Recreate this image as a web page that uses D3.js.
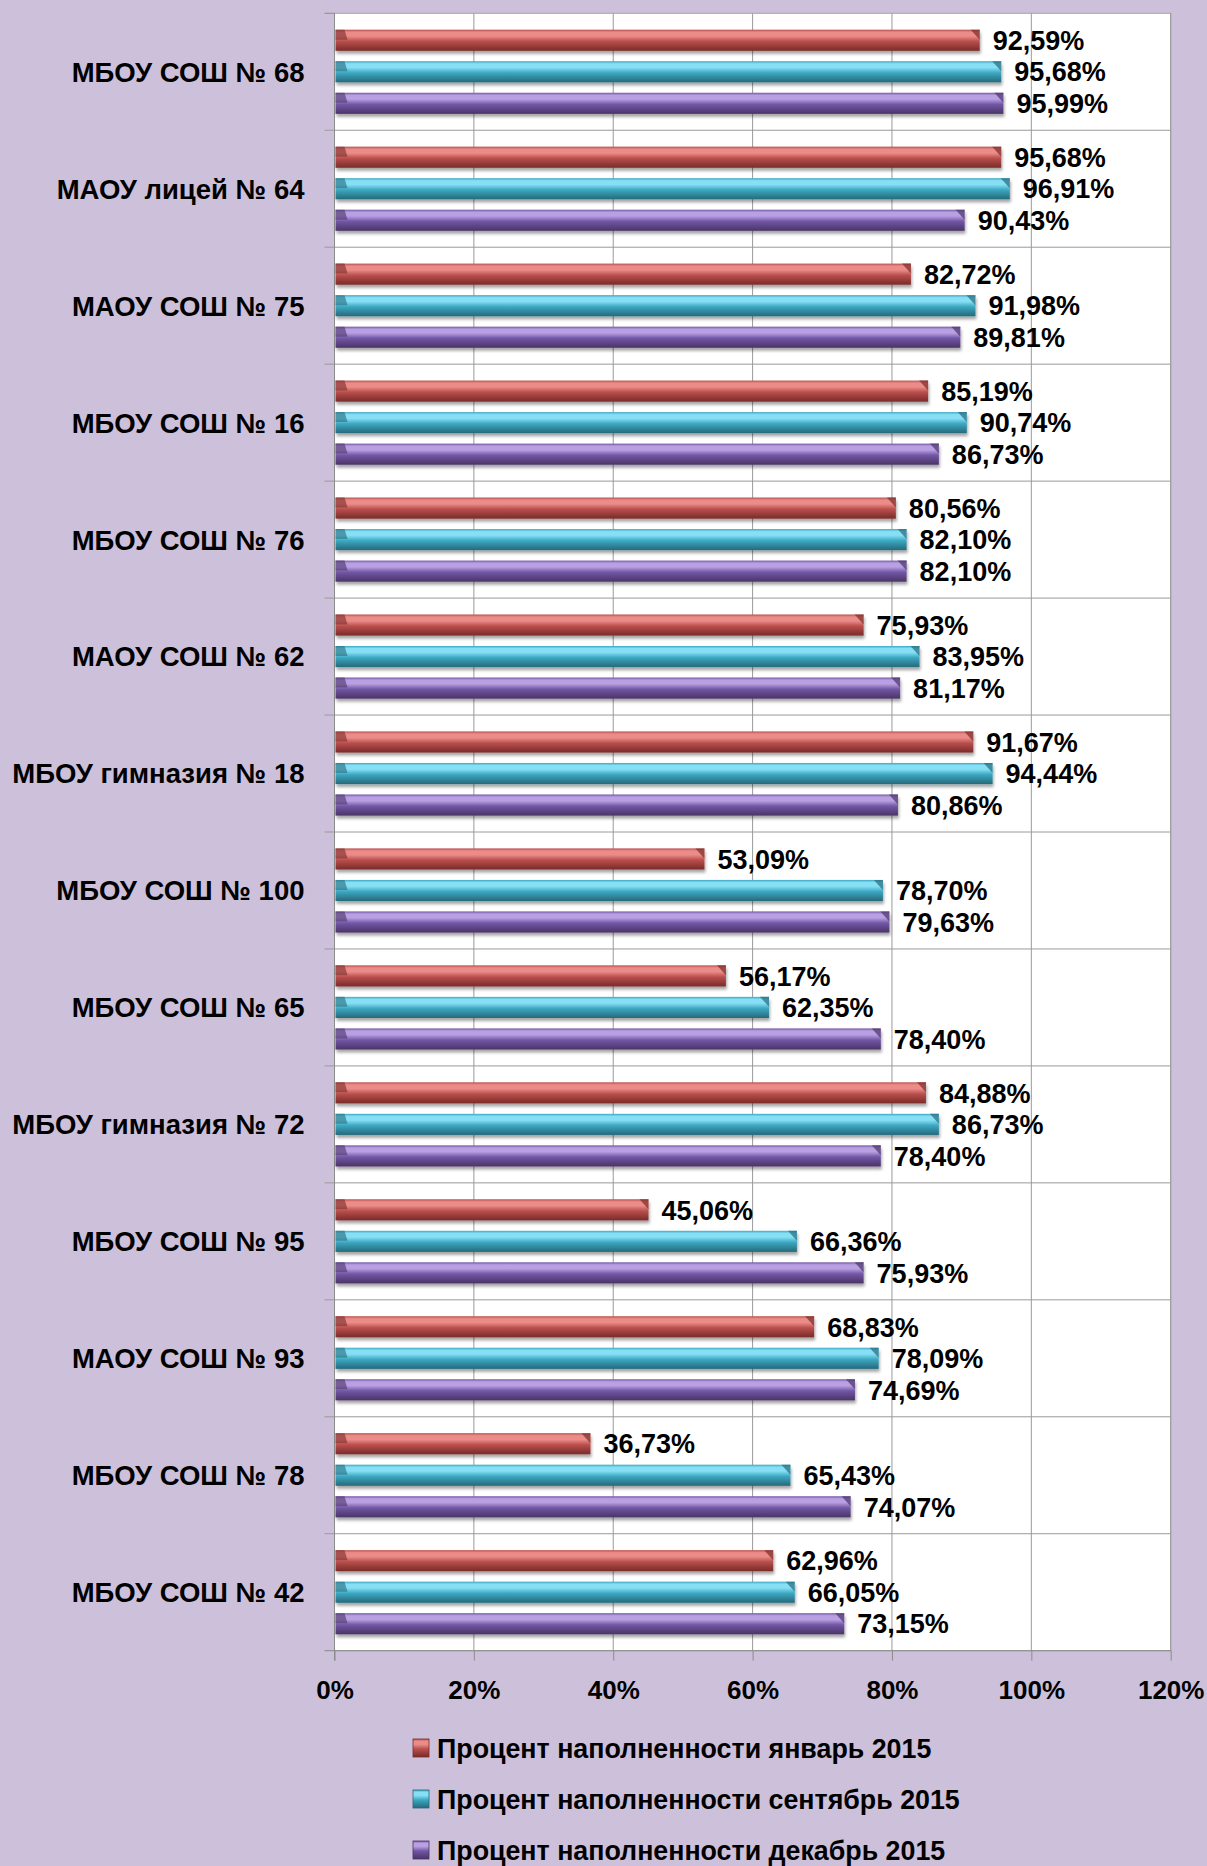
<!DOCTYPE html>
<html>
<head>
<meta charset="utf-8">
<script src="https://cdn.jsdelivr.net/npm/d3@7"></script>
<style>
  html, body { margin: 0; padding: 0; background: #ccc0da; }
  svg { display: block; font-family: "Liberation Sans", Arial, sans-serif; font-weight: 700; }
</style>
</head>
<body>
<div id="chart"></div>
<script>
// schools, top to bottom
var schools = [
  "МБОУ СОШ № 68", "МАОУ лицей № 64", "МАОУ СОШ № 75", "МБОУ СОШ № 16",
  "МБОУ СОШ № 76", "МАОУ СОШ № 62", "МБОУ гимназия № 18", "МБОУ СОШ № 100",
  "МБОУ СОШ № 65", "МБОУ гимназия № 72", "МБОУ СОШ № 95", "МАОУ СОШ № 93",
  "МБОУ СОШ № 78", "МБОУ СОШ № 42"
];
var seriesNames = [
  "Процент наполненности январь 2015",
  "Процент наполненности сентябрь 2015",
  "Процент наполненности декабрь 2015"
];
var january = [92.59, 95.68, 82.72, 85.19, 80.56, 75.93, 91.67, 53.09, 56.17, 84.88, 45.06, 68.83, 36.73, 62.96];
var september = [95.68, 96.91, 91.98, 90.74, 82.10, 83.95, 94.44, 78.70, 62.35, 86.73, 66.36, 78.09, 65.43, 66.05];
var december = [95.99, 90.43, 89.81, 86.73, 82.10, 81.17, 80.86, 79.63, 78.40, 78.40, 75.93, 74.69, 74.07, 73.15];
var xTicks = [0, 20, 40, 60, 80, 100, 120];

var W = 1207, H = 1866;
var plot = { left: 334.5, right: 1170.7, top: 13.3, bottom: 1650.7 };

// colours for each series: light top, mid, dark bottom
var palette = [
  { light: "#ec8c89", mid: "#b9504d", dark: "#8f3634", edge: "#7a2c2a" },
  { light: "#86dff4", mid: "#3ca8c2", dark: "#2d7d91", edge: "#256a7b" },
  { light: "#b9a0e2", mid: "#7257a6", dark: "#573f7a", edge: "#4a3468" }
];

var data = schools.map(function (s, i) {
  return { school: s, values: [january[i], september[i], december[i]] };
});

var svg = d3.select("#chart").append("svg")
  .attr("width", W).attr("height", H);

var defs = svg.append("defs");
palette.forEach(function (c, i) {
  var g = defs.append("linearGradient")
    .attr("id", "grad" + i)
    .attr("x1", 0).attr("y1", 0).attr("x2", 0).attr("y2", 1);
  g.append("stop").attr("offset", "0%").attr("stop-color", c.mid);
  g.append("stop").attr("offset", "12%").attr("stop-color", c.light);
  g.append("stop").attr("offset", "30%").attr("stop-color", c.light);
  g.append("stop").attr("offset", "55%").attr("stop-color", c.mid);
  g.append("stop").attr("offset", "85%").attr("stop-color", c.dark);
  g.append("stop").attr("offset", "100%").attr("stop-color", c.edge);
});
var shadow = defs.append("filter").attr("id", "shadow")
  .attr("x", "-5%").attr("y", "-20%").attr("width", "110%").attr("height", "160%");
shadow.append("feDropShadow")
  .attr("dx", 1).attr("dy", 3).attr("stdDeviation", 1.6)
  .attr("flood-color", "#000").attr("flood-opacity", 0.35);

var x = d3.scaleLinear().domain([0, 120]).range([plot.left, plot.right]);
var y = d3.scaleBand().domain(schools).range([plot.top, plot.bottom]);
var ySub = d3.scaleBand().domain([0, 1, 2]).range([0, y.bandwidth()])
  .paddingInner(0.33).paddingOuter(0.52);

// plot area
svg.append("rect")
  .attr("x", plot.left).attr("y", plot.top)
  .attr("width", plot.right - plot.left).attr("height", plot.bottom - plot.top)
  .attr("fill", "#fff").attr("stroke", "#a6a6a6").attr("stroke-width", 1);

// vertical gridlines
svg.append("g").selectAll("line").data(xTicks.slice(1)).join("line")
  .attr("x1", function (d) { return x(d); }).attr("x2", function (d) { return x(d); })
  .attr("y1", plot.top).attr("y2", plot.bottom)
  .attr("stroke", "#9a9a9a").attr("stroke-width", 1);

// horizontal lines between categories
svg.append("g").selectAll("line").data(schools.slice(1)).join("line")
  .attr("x1", plot.left - 10).attr("x2", plot.right)
  .attr("y1", function (d) { return y(d); }).attr("y2", function (d) { return y(d); })
  .attr("stroke", "#9a9a9a").attr("stroke-width", 1);

// x axis
var xAxis = svg.append("g")
  .attr("transform", "translate(0," + plot.bottom + ")")
  .call(d3.axisBottom(x).tickValues(xTicks).tickSize(10).tickPadding(20)
    .tickFormat(function (d) { return d + "%"; }));
xAxis.select(".domain").attr("stroke", "#8c8c8c").attr("d", "M" + (plot.left - 10) + ",0H" + plot.right);
xAxis.selectAll(".tick line").attr("stroke", "#8c8c8c");
xAxis.selectAll("text").attr("font-size", 26).attr("font-family", "Liberation Sans")
  .attr("font-weight", 700).attr("fill", "#000");

// y axis line
svg.append("line")
  .attr("x1", plot.left).attr("x2", plot.left)
  .attr("y1", plot.top).attr("y2", plot.bottom + 10)
  .attr("stroke", "#8c8c8c");
svg.append("line")
  .attr("x1", plot.left - 10).attr("x2", plot.left)
  .attr("y1", plot.top).attr("y2", plot.top)
  .attr("stroke", "#8c8c8c");

// category labels
svg.append("g").selectAll("text").data(schools).join("text")
  .attr("x", plot.left - 30)
  .attr("y", function (d) { return y(d) + y.bandwidth() / 2; })
  .attr("dy", "0.36em")
  .attr("text-anchor", "end")
  .attr("font-size", 27.5)
  .text(function (d) { return d; });

// bars
var groups = svg.append("g").selectAll("g").data(data).join("g")
  .attr("transform", function (d) { return "translate(0," + y(d.school) + ")"; });

var bh = ySub.bandwidth();
var bars = groups.selectAll("g.bar")
  .data(function (d) { return d.values.map(function (v, k) { return { v: v, k: k }; }); })
  .join("g").attr("class", "bar");

bars.append("rect")
  .attr("x", x(0) + 1)
  .attr("y", function (d) { return ySub(d.k); })
  .attr("width", function (d) { return x(d.v) - x(0) - 1; })
  .attr("height", bh)
  .attr("fill", function (d) { return "url(#grad" + d.k + ")"; })
  .attr("filter", "url(#shadow)");

// bevelled ends
bars.append("path")
  .attr("d", function (d) {
    var y0 = ySub(d.k), x1 = x(d.v);
    return "M" + (x1 - 9) + "," + y0 + "L" + x1 + "," + y0 + "L" + x1 + "," + (y0 + 10) + "Z";
  })
  .attr("fill", function (d) { return palette[d.k].edge; })
  .attr("opacity", 0.7);
bars.append("path")
  .attr("d", function (d) {
    var y0 = ySub(d.k), x0 = x(0) + 1;
    return "M" + x0 + "," + y0 + "L" + (x0 + 9) + "," + y0 + "L" + (x0 + 12) + "," + (y0 + 10) + "L" + x0 + "," + (y0 + 10) + "Z";
  })
  .attr("fill", function (d) { return palette[d.k].edge; })
  .attr("opacity", 0.6);

// value labels
var fmt = d3.format(".2f");
bars.append("text")
  .attr("x", function (d) { return x(d.v) + 13; })
  .attr("y", function (d) { return ySub(d.k) + bh / 2; })
  .attr("dy", "0.36em")
  .attr("font-size", 27)
  .text(function (d) { return fmt(d.v).replace(".", ",") + "%"; });

// legend
var legend = svg.append("g").selectAll("g").data(seriesNames).join("g")
  .attr("transform", function (d, i) { return "translate(413," + (1748 + i * 51) + ")"; });
legend.append("rect")
  .attr("x", 0).attr("y", -9).attr("width", 16).attr("height", 18)
  .attr("fill", function (d, i) { return "url(#grad" + i + ")"; })
  .attr("stroke", function (d, i) { return palette[i].edge; }).attr("stroke-width", 0.8);
legend.append("text")
  .attr("x", 24).attr("dy", "0.36em")
  .attr("font-size", 26.8)
  .text(function (d) { return d; });
</script>
</body>
</html>
